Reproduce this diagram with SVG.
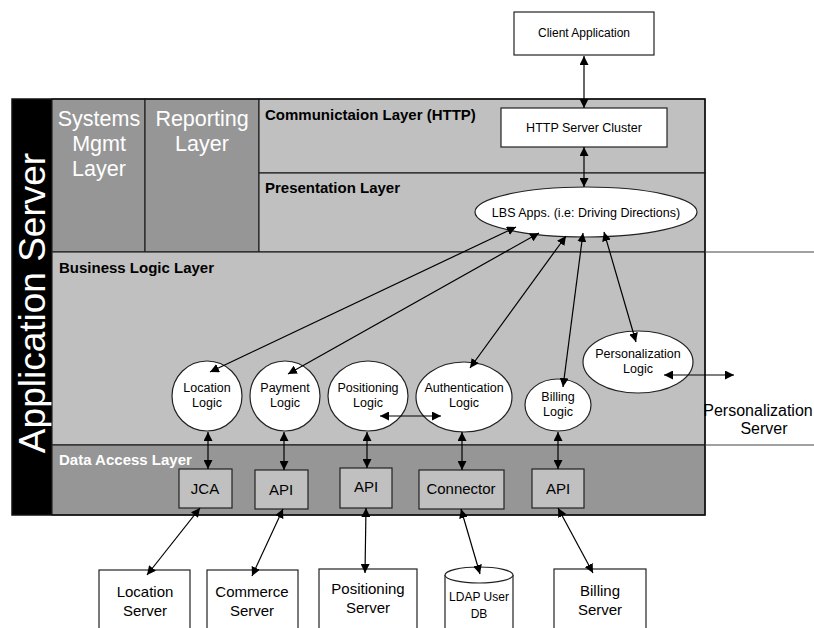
<svg xmlns="http://www.w3.org/2000/svg" width="814" height="628" viewBox="0 0 814 628">
<style>
.dk{fill:#969696;stroke:#222;stroke-width:1.2}
.lt{fill:#c0c0c0;stroke:#222;stroke-width:1.2}
.wb{fill:#fff;stroke:#222;stroke-width:1.2}
.t{font-family:"Liberation Sans",Arial,sans-serif;fill:#000}
.b{font-family:"Liberation Sans",Arial,sans-serif;font-weight:bold;font-size:15px}
.w{fill:#fff}
.c{stroke:#000;stroke-width:1.2;fill:none;marker-start:url(#ah);marker-end:url(#ah)}
</style>
<defs>
<marker id="ah" viewBox="0 0 10 10" refX="10" refY="5" markerWidth="9" markerHeight="9" markerUnits="userSpaceOnUse" orient="auto-start-reverse">
<path d="M0,0 L10,5 L0,10 z" fill="#000"/>
</marker>
</defs>
<rect width="814" height="628" fill="#fff"/>
<g id="app-server">
<rect x="12" y="99" width="40" height="416" fill="#000"/>
<text class="t w" font-size="37" transform="translate(45,303) rotate(-90)" text-anchor="middle">Application Server</text>
</g>
<g id="systems-mgmt">
<rect class="dk" x="52" y="99" width="93" height="153"/>
<text class="t w" font-size="21.5" text-anchor="middle"><tspan x="99" y="126">Systems</tspan><tspan x="99" y="151">Mgmt</tspan><tspan x="99" y="176">Layer</tspan></text>
</g>
<g id="reporting">
<rect class="dk" x="145" y="99" width="114" height="153"/>
<text class="t w" font-size="21.5" text-anchor="middle"><tspan x="202" y="126">Reporting</tspan><tspan x="202" y="151">Layer</tspan></text>
</g>
<g id="communication-layer">
<rect class="lt" x="259" y="99" width="446" height="74"/>
<text class="b" x="265" y="120">Communictaion Layer (HTTP)</text>
</g>
<g id="presentation-layer">
<rect class="lt" x="259" y="173" width="446" height="79"/>
<text class="b" x="265" y="193">Presentation Layer</text>
</g>
<g id="business-logic-layer">
<rect class="lt" x="52" y="252" width="653" height="193"/>
<text class="b" x="59" y="273">Business Logic Layer</text>
</g>
<g id="data-access-layer">
<rect class="dk" x="52" y="445" width="653" height="70"/>
<text class="b w" x="59" y="465">Data Access Layer</text>
</g>
<rect x="12" y="99" width="693" height="416" fill="none" stroke="#111" stroke-width="1.5"/>
<g id="extension-lines" stroke="#444" stroke-width="1.2">
<line x1="705" y1="252" x2="814" y2="252"/>
<line x1="705" y1="445" x2="814" y2="445"/>
</g>
<g id="client-app">
<rect class="wb" x="514" y="12" width="140" height="43"/>
<text class="t" font-size="12" x="584" y="37" text-anchor="middle">Client Application</text>
</g>
<g id="http-cluster">
<rect class="wb" x="501" y="108" width="166" height="39"/>
<text class="t" font-size="12.5" x="584" y="132" text-anchor="middle">HTTP Server Cluster</text>
</g>
<g id="lbs-apps">
<ellipse class="wb" cx="586" cy="212" rx="111" ry="25"/>
<text class="t" font-size="12.5" x="586" y="217" text-anchor="middle">LBS Apps. (i.e: Driving Directions)</text>
</g>
<g id="location-logic">
<ellipse class="wb" cx="207" cy="396" rx="35" ry="35"/>
<text class="t" font-size="12.5" text-anchor="middle"><tspan x="207" y="392">Location</tspan><tspan x="207" y="407">Logic</tspan></text>
</g>
<g id="payment-logic">
<ellipse class="wb" cx="285" cy="396" rx="35" ry="35"/>
<text class="t" font-size="12.5" text-anchor="middle"><tspan x="285" y="392">Payment</tspan><tspan x="285" y="407">Logic</tspan></text>
</g>
<g id="positioning-logic">
<ellipse class="wb" cx="368" cy="396" rx="40" ry="35"/>
<text class="t" font-size="12.5" text-anchor="middle"><tspan x="368" y="392">Positioning</tspan><tspan x="368" y="407">Logic</tspan></text>
</g>
<g id="authentication-logic">
<ellipse class="wb" cx="464" cy="397" rx="48" ry="35"/>
<text class="t" font-size="12.5" text-anchor="middle"><tspan x="464" y="392">Authentication</tspan><tspan x="464" y="407">Logic</tspan></text>
</g>
<g id="billing-logic">
<ellipse class="wb" cx="558" cy="405" rx="33" ry="26"/>
<text class="t" font-size="12.5" text-anchor="middle"><tspan x="558" y="401">Billing</tspan><tspan x="558" y="416">Logic</tspan></text>
</g>
<g id="personalization-logic">
<ellipse class="wb" cx="638" cy="362" rx="55" ry="31"/>
<text class="t" font-size="12.5" text-anchor="middle"><tspan x="638" y="358">Personalization</tspan><tspan x="638" y="373">Logic</tspan></text>
</g>
<g id="personalization-server">
<text class="t" font-size="16" text-anchor="middle"><tspan x="758" y="416">Personalization</tspan><tspan x="764" y="434">Server</tspan></text>
</g>
<g id="jca">
<rect class="lt" x="179" y="469" width="53" height="39"/>
<text class="t" font-size="15" x="205" y="494" text-anchor="middle">JCA</text>
</g>
<g id="api-1">
<rect class="lt" x="255" y="470" width="53" height="39"/>
<text class="t" font-size="15" x="281" y="495" text-anchor="middle">API</text>
</g>
<g id="api-2">
<rect class="lt" x="340" y="468" width="52" height="40"/>
<text class="t" font-size="15" x="366" y="492" text-anchor="middle">API</text>
</g>
<g id="connector">
<rect class="lt" x="419" y="470" width="85" height="39"/>
<text class="t" font-size="15" x="461" y="494" text-anchor="middle">Connector</text>
</g>
<g id="api-3">
<rect class="lt" x="532" y="469" width="52" height="39"/>
<text class="t" font-size="15" x="558" y="494" text-anchor="middle">API</text>
</g>
<g id="location-server">
<rect class="wb" x="99" y="570" width="91" height="70"/>
<text class="t" font-size="15" text-anchor="middle"><tspan x="145" y="597">Location</tspan><tspan x="145" y="616">Server</tspan></text>
</g>
<g id="commerce-server">
<rect class="wb" x="207" y="570" width="91" height="70"/>
<text class="t" font-size="15" text-anchor="middle"><tspan x="252" y="597">Commerce</tspan><tspan x="252" y="616">Server</tspan></text>
</g>
<g id="positioning-server">
<rect class="wb" x="319" y="569" width="98" height="70"/>
<text class="t" font-size="15" text-anchor="middle"><tspan x="368" y="594">Positioning</tspan><tspan x="368" y="613">Server</tspan></text>
</g>
<g id="ldap-db">
<path class="wb" d="M445,575 L445,640 L513,640 L513,575"/>
<ellipse class="wb" cx="479" cy="575" rx="34" ry="8"/>
<text class="t" font-size="12" text-anchor="middle"><tspan x="479" y="601">LDAP User</tspan><tspan x="479" y="618">DB</tspan></text>
</g>
<g id="billing-server">
<rect class="wb" x="554" y="569" width="92" height="70"/>
<text class="t" font-size="15" text-anchor="middle"><tspan x="600" y="596">Billing</tspan><tspan x="600" y="615">Server</tspan></text>
</g>
<g id="connectors">
<line class="c" x1="584" y1="56" x2="584" y2="108"/>
<line class="c" x1="584" y1="147" x2="584" y2="187"/>
<line class="c" x1="516" y1="227" x2="210" y2="372"/>
<line class="c" x1="539" y1="233" x2="288" y2="374"/>
<line class="c" x1="566" y1="236" x2="470" y2="368"/>
<line class="c" x1="583" y1="233" x2="563" y2="387"/>
<line class="c" x1="604" y1="232" x2="636" y2="342"/>
<line class="c" x1="664" y1="375" x2="734" y2="375"/>
<line class="c" x1="380" y1="416" x2="441" y2="416"/>
<line class="c" x1="208" y1="432" x2="208" y2="469"/>
<line class="c" x1="284" y1="432" x2="284" y2="470"/>
<line class="c" x1="367" y1="432" x2="367" y2="468"/>
<line class="c" x1="462" y1="432" x2="462" y2="470"/>
<line class="c" x1="558" y1="432" x2="558" y2="469"/>
<line class="c" x1="200" y1="508" x2="147" y2="575"/>
<line class="c" x1="283" y1="509" x2="252" y2="576"/>
<line class="c" x1="366" y1="508" x2="365" y2="573"/>
<line class="c" x1="461" y1="509" x2="480" y2="574"/>
<line class="c" x1="558" y1="508" x2="593" y2="573"/>
</g>
</svg>
